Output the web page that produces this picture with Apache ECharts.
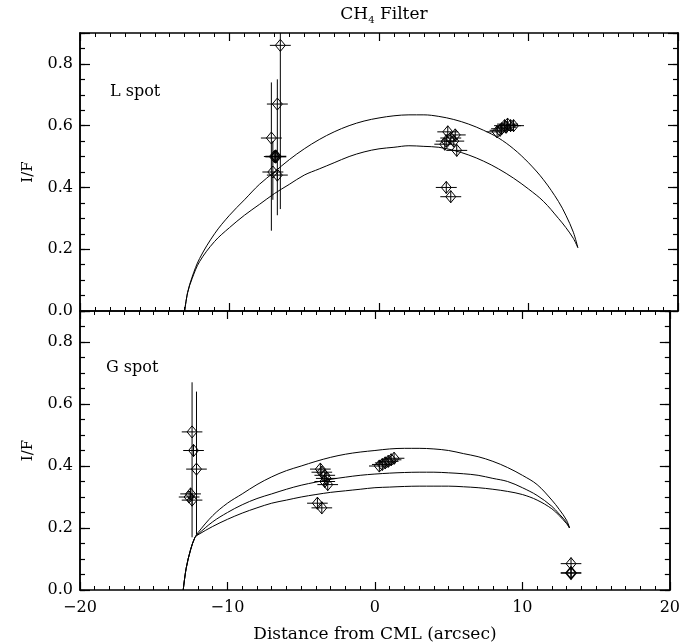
<!DOCTYPE html>
<html>
<head>
<meta charset="utf-8">
<script src="https://cdn.jsdelivr.net/npm/echarts@6/dist/echarts.min.js"></script>
<style>
  html, body { margin: 0; padding: 0; background: #fff; }
  #chart { width: 683px; height: 644px; }
</style>
</head>
<body>
<div id="chart"></div>
<script>
// x ticks / labels
const xTicks = [-20, -10, 0, 10, 20];
const yLabels = [0.0, 0.2, 0.4, 0.6, 0.8];

// L spot model curves (top panel)
const lCurveX = [-13, -12.8, -12.5, -12, -11, -10, -9, -8, -7, -6, -5, -4, -3, -2, -1, 0, 1, 2, 3, 4, 5, 6, 7, 8, 9, 10, 11, 12, 12.5, 13, 13.3];
const lCurveHigh = [0, 0.06, 0.11, 0.17, 0.25, 0.31, 0.36, 0.41, 0.45, 0.49, 0.525, 0.555, 0.58, 0.60, 0.615, 0.625, 0.632, 0.635, 0.635, 0.63, 0.62, 0.605, 0.585, 0.56, 0.525, 0.48, 0.425, 0.355, 0.31, 0.255, 0.205];
const lCurveLow = [0, 0.06, 0.105, 0.16, 0.225, 0.27, 0.31, 0.345, 0.38, 0.41, 0.44, 0.46, 0.48, 0.50, 0.515, 0.525, 0.53, 0.535, 0.533, 0.53, 0.52, 0.505, 0.485, 0.46, 0.43, 0.395, 0.355, 0.30, 0.27, 0.235, 0.205];

// G spot model curves (bottom panel)
const gCurveX = [-13, -12.8, -12.5, -12.2, -12, -11, -10, -9, -8, -7, -6, -5, -4, -3, -2, -1, 0, 1, 2, 3, 4, 5, 6, 7, 8, 9, 10, 11, 12, 12.5, 13, 13.2];
const gCurveHigh = [0, 0.07, 0.13, 0.17, 0.185, 0.24, 0.28, 0.31, 0.34, 0.365, 0.385, 0.40, 0.415, 0.428, 0.438, 0.445, 0.45, 0.455, 0.457, 0.457, 0.455, 0.45, 0.44, 0.43, 0.415, 0.395, 0.37, 0.34, 0.29, 0.26, 0.225, 0.20];
const gCurveMid = [0, 0.07, 0.13, 0.17, 0.18, 0.22, 0.25, 0.275, 0.295, 0.31, 0.325, 0.338, 0.348, 0.357, 0.364, 0.37, 0.374, 0.377, 0.379, 0.38, 0.38, 0.378, 0.375, 0.37, 0.36, 0.35, 0.33, 0.305, 0.27, 0.245, 0.218, 0.20];
const gCurveLow = [0, 0.07, 0.13, 0.17, 0.178, 0.205, 0.228, 0.248, 0.265, 0.28, 0.29, 0.30, 0.308, 0.315, 0.32, 0.325, 0.33, 0.332, 0.334, 0.335, 0.335, 0.335, 0.333, 0.33, 0.325, 0.318, 0.308, 0.29, 0.262, 0.24, 0.214, 0.20];

// L spot measurements
const lX    = [-6.6, -6.8, -7.2, -6.9, -7.0, -7.1, -6.8, 4.6, 4.8, 4.5, 4.4, 5.0, 5.1, 5.2, 4.5, 4.8, 7.9, 8.2, 8.4, 8.6, 8.8, 8.1, 8.5, 9.0];
const lY    = [0.86, 0.67, 0.56, 0.50, 0.50, 0.45, 0.44, 0.58, 0.56, 0.55, 0.54, 0.55, 0.57, 0.52, 0.40, 0.37, 0.58, 0.59, 0.60, 0.605, 0.60, 0.585, 0.595, 0.60];
const lYlo  = [0.33, 0.31, 0.26, 0.48, 0.48, 0.36, 0.42, 0.56, 0.54, 0.53, 0.52, 0.53, 0.55, 0.50, 0.38, 0.35, 0.56, 0.57, 0.58, 0.585, 0.58, 0.565, 0.575, 0.58];
const lYhi  = [0.95, 0.75, 0.74, 0.52, 0.52, 0.55, 0.46, 0.60, 0.58, 0.57, 0.56, 0.57, 0.59, 0.54, 0.42, 0.39, 0.60, 0.61, 0.62, 0.625, 0.62, 0.605, 0.615, 0.62];
const lBold = [1, 1, 1, 1.6, 1, 1, 1, 1, 1, 1, 1, 1, 1, 1, 1, 1, 1, 1, 1, 1, 1, 1, 1, 1];

// G spot measurements
const gX    = [-12.4, -12.3, -12.1, -12.5, -12.6, -12.4, -3.7, -3.6, -3.4, -3.3, -3.4, -3.2, -3.9, -3.6, 0.3, 0.5, 0.7, 0.9, 1.1, 1.3, 13.3, 13.3];
const gY    = [0.51, 0.45, 0.39, 0.31, 0.30, 0.29, 0.39, 0.38, 0.37, 0.36, 0.35, 0.34, 0.28, 0.265, 0.40, 0.405, 0.41, 0.415, 0.42, 0.425, 0.085, 0.055];
const gYlo  = [0.17, 0.43, 0.18, 0.29, 0.28, 0.27, 0.37, 0.36, 0.35, 0.34, 0.33, 0.32, 0.26, 0.245, 0.38, 0.385, 0.39, 0.395, 0.40, 0.405, 0.065, 0.035];
const gYhi  = [0.67, 0.47, 0.64, 0.33, 0.32, 0.31, 0.41, 0.40, 0.39, 0.38, 0.37, 0.36, 0.30, 0.285, 0.42, 0.425, 0.43, 0.435, 0.44, 0.445, 0.105, 0.075];
const gBold = [1, 1, 1, 1, 1, 1, 1, 1, 1, 1, 1, 1, 1, 1, 1, 1, 1, 1, 1, 1, 1, 1.6];

const X_ERR = 0.7;
const FONT = 'DejaVu Serif';

const chart = echarts.init(document.getElementById('chart'), null, { renderer: 'canvas' });

function zip(xs, ys) {
  return xs.map((x, i) => [x, ys[i]]);
}

function xAxis(grid, position, showLabels, name) {
  return {
    type: 'value', gridIndex: grid, position: position,
    min: xTicks[0], max: xTicks[xTicks.length - 1], interval: 10,
    axisLine: { show: true, onZero: false, lineStyle: { color: '#000', width: 1.5 } },
    axisTick: { show: true, inside: true, length: 8, lineStyle: { color: '#000', width: 1.2 } },
    minorTick: { show: true, splitNumber: 10, length: 4, lineStyle: { color: '#000', width: 1 } },
    splitLine: { show: false },
    axisLabel: { show: showLabels, color: '#000', fontFamily: FONT, fontSize: 16, margin: 10,
      formatter: v => (v < 0 ? '\u2212' + Math.abs(v) : String(v)) },
    name: name || '', nameLocation: 'middle', nameGap: 36,
    nameTextStyle: { color: '#000', fontFamily: FONT, fontSize: 17 }
  };
}

function yAxis(grid, position, major, showLabels) {
  return {
    type: 'value', gridIndex: grid, position: position,
    min: 0, max: 0.9, interval: major ? 0.2 : 0.05,
    axisLine: { show: true, onZero: false, lineStyle: { color: '#000', width: 1.5 } },
    axisTick: { show: true, inside: true, length: major ? 10 : 5, lineStyle: { color: '#000', width: 1.2 } },
    splitLine: { show: false },
    axisLabel: { show: showLabels, color: '#000', fontFamily: FONT, fontSize: 16, margin: 7,
      formatter: v => (Math.abs(v - 0.9) < 1e-6 ? '' : v.toFixed(1)) },
    name: showLabels ? 'I/F' : '', nameLocation: 'middle', nameGap: 44, nameRotate: 90,
    nameTextStyle: { color: '#000', fontFamily: FONT, fontSize: 15 }
  };
}

function curve(xs, ys, xi, yi) {
  return {
    type: 'line', xAxisIndex: xi, yAxisIndex: yi, data: zip(xs, ys),
    smooth: 0.35, showSymbol: false, silent: true,
    lineStyle: { color: '#000', width: 1 }
  };
}

function points(xs, ys, lo, hi, bold, xi, yi) {
  return {
    type: 'custom', xAxisIndex: xi, yAxisIndex: yi, clip: true,
    data: xs.map((x, i) => [x, ys[i], lo[i], hi[i], bold[i]]),
    encode: { x: 0, y: 1 },
    renderItem: function (params, api) {
      const x = api.value(0), y = api.value(1);
      const w = api.value(4);
      const c = api.coord([x, y]);
      const a = api.coord([x - X_ERR, y]);
      const b = api.coord([x + X_ERR, y]);
      const t = api.coord([x, api.value(3)]);
      const u = api.coord([x, api.value(2)]);
      const dx = 5, dy = 6;
      const st = { stroke: '#000', lineWidth: w, fill: 'none' };
      return {
        type: 'group',
        children: [
          { type: 'line', shape: { x1: a[0], y1: c[1], x2: b[0], y2: c[1] }, style: st },
          { type: 'line', shape: { x1: c[0], y1: t[1], x2: c[0], y2: u[1] }, style: st },
          { type: 'polygon', shape: { points: [[c[0], c[1] - dy], [c[0] + dx, c[1]], [c[0], c[1] + dy], [c[0] - dx, c[1]]] }, style: st }
        ]
      };
    }
  };
}

const option = {
  backgroundColor: '#fff',
  animation: false,
  grid: [
    { left: 80, width: 598, top: 33, height: 278 },
    { left: 80, width: 598, top: 311, height: 279 }
  ],
  xAxis: [
    xAxis(0, 'bottom', false),
    xAxis(0, 'top', false),
    xAxis(1, 'bottom', true, 'Distance from CML (arcsec)'),
    xAxis(1, 'top', false)
  ],
  yAxis: [
    yAxis(0, 'left', false, false),
    yAxis(0, 'left', true, true),
    yAxis(0, 'right', false, false),
    yAxis(0, 'right', true, false),
    yAxis(1, 'left', false, false),
    yAxis(1, 'left', true, true),
    yAxis(1, 'right', false, false),
    yAxis(1, 'right', true, false)
  ],
  graphic: [
    {
      type: 'text', x: 384, y: 15,
      style: {
        text: '{a|CH}{s|4}{a| Filter}', align: 'center', verticalAlign: 'middle',
        rich: {
          a: { fontFamily: FONT, fontSize: 17, fill: '#000' },
          s: { fontFamily: FONT, fontSize: 10, fill: '#000', padding: [11, 0, 0, 0] }
        }
      }
    },
    { type: 'text', x: 110, y: 84, style: { text: 'L spot', fontFamily: FONT, fontSize: 16, fill: '#000' } },
    { type: 'text', x: 106, y: 360, style: { text: 'G spot', fontFamily: FONT, fontSize: 16, fill: '#000' } }
  ],
  series: [
    curve(lCurveX, lCurveHigh, 0, 1),
    curve(lCurveX, lCurveLow, 0, 1),
    curve(gCurveX, gCurveHigh, 2, 5),
    curve(gCurveX, gCurveMid, 2, 5),
    curve(gCurveX, gCurveLow, 2, 5),
    points(lX, lY, lYlo, lYhi, lBold, 0, 1),
    points(gX, gY, gYlo, gYhi, gBold, 2, 5)
  ]
};

chart.setOption(option);
</script>
</body>
</html>
